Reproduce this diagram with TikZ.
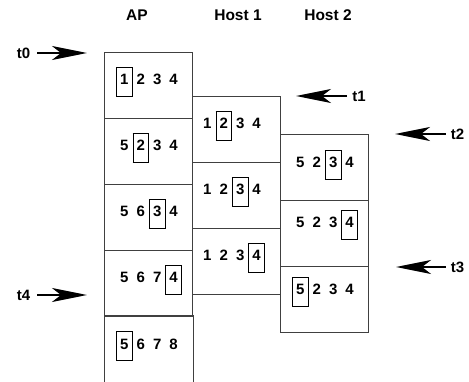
\documentclass[tikz,border=0pt]{standalone}
\usepackage{fontspec}
\setmainfont{Liberation Sans}
\usetikzlibrary{arrows.meta}

% one digit in a fixed-width slot
\newcommand\dg[1]{\makebox[16.4pt]{#1}}
% the current digit, framed
\newcommand\hb[1]{\makebox[16.4pt]{\fboxsep=0pt\fboxrule=0.8pt\fbox{\rule[-11pt]{0pt}{28pt}\makebox[15pt]{#1}}}}

\begin{document}
\begin{tikzpicture}[x=1pt,y=-1pt,
  font=\fontsize{15}{18}\selectfont\bfseries,
  cell/.style={draw=black!75, line width=1pt, minimum width=88pt,
    minimum height=66pt, inner sep=0pt, anchor=north west},
  seq/.style={inner sep=0pt, anchor=base},
  head/.style={inner sep=0pt, anchor=base, font=\fontsize{15.5}{18}\selectfont\bfseries},
  tlabel/.style={inner sep=0pt, font=\fontsize{15}{18}\selectfont\bfseries},
  timearrow/.style={line width=2.2pt,
    -{Stealth[length=35pt, width=14pt, inset=9pt]}}]
\useasboundingbox (0,0) rectangle (469,382);

% column headings
\node[head] (hap) at (137,21) {AP};
\node[head] (hh1) at (238,21) {Host 1};
\node[head] (hh2) at (328,21) {Host 2};

% AP column (open at the bottom)
\node[cell] (ap1) at (104,52)  {};
\node[cell] (ap2) at (104,118) {};
\node[cell] (ap3) at (104,184) {};
\node[cell] (ap4) at (104,250) {};
\node[cell, draw=none] (ap5) at (104,316) {};
\draw[draw=black!75, line width=1pt]
  (ap5.south west) -- (ap5.north west) -- (ap5.north east) -- (ap5.south east);

% Host 1 column
\node[cell] (ha1) at (192,96)  {};
\node[cell] (ha2) at (192,162) {};
\node[cell] (ha3) at (192,228) {};

% Host 2 column
\node[cell] (hb1) at (280,134) {};
\node[cell] (hb2) at (280,200) {};
\node[cell] (hb3) at (280,266) {};

% sequence windows
\node[seq] (ap1t) at (149,85)  {\hb{1}\dg{2}\dg{3}\dg{4}};
\node[seq] (ap2t) at (149,151) {\dg{5}\hb{2}\dg{3}\dg{4}};
\node[seq] (ap3t) at (149,217) {\dg{5}\dg{6}\hb{3}\dg{4}};
\node[seq] (ap4t) at (149,283) {\dg{5}\dg{6}\dg{7}\hb{4}};
\node[seq] (ap5t) at (149,349) {\hb{5}\dg{6}\dg{7}\dg{8}};

\node[seq] (ha1t) at (232,129) {\dg{1}\hb{2}\dg{3}\dg{4}};
\node[seq] (ha2t) at (232,195) {\dg{1}\dg{2}\hb{3}\dg{4}};
\node[seq] (ha3t) at (232,261) {\dg{1}\dg{2}\dg{3}\hb{4}};

\node[seq] (hb1t) at (325,168) {\dg{5}\dg{2}\hb{3}\dg{4}};
\node[seq] (hb2t) at (325,228) {\dg{5}\dg{2}\dg{3}\hb{4}};
\node[seq] (hb3t) at (325,295) {\hb{5}\dg{2}\dg{3}\dg{4}};

% time markers
\node[tlabel] (t0) at (23.5,53)  {t0};
\node[tlabel] (t1) at (359,96)   {t1};
\node[tlabel] (t2) at (457.5,134) {t2};
\node[tlabel] (t3) at (457.5,267) {t3};
\node[tlabel] (t4) at (23.5,295) {t4};

\coordinate (p0) at (87,53);
\coordinate (p1) at (296,96);
\coordinate (p2) at (395,134);
\coordinate (p3) at (396,267);
\coordinate (p4) at (87,295);

\draw[timearrow, shorten <=7pt] (t0.east) -- (p0);
\draw[timearrow, shorten <=5pt] (t1.west) -- (p1);
\draw[timearrow, shorten <=5pt] (t2.west) -- (p2);
\draw[timearrow, shorten <=5pt] (t3.west) -- (p3);
\draw[timearrow, shorten <=7pt] (t4.east) -- (p4);
\end{tikzpicture}
\end{document}
